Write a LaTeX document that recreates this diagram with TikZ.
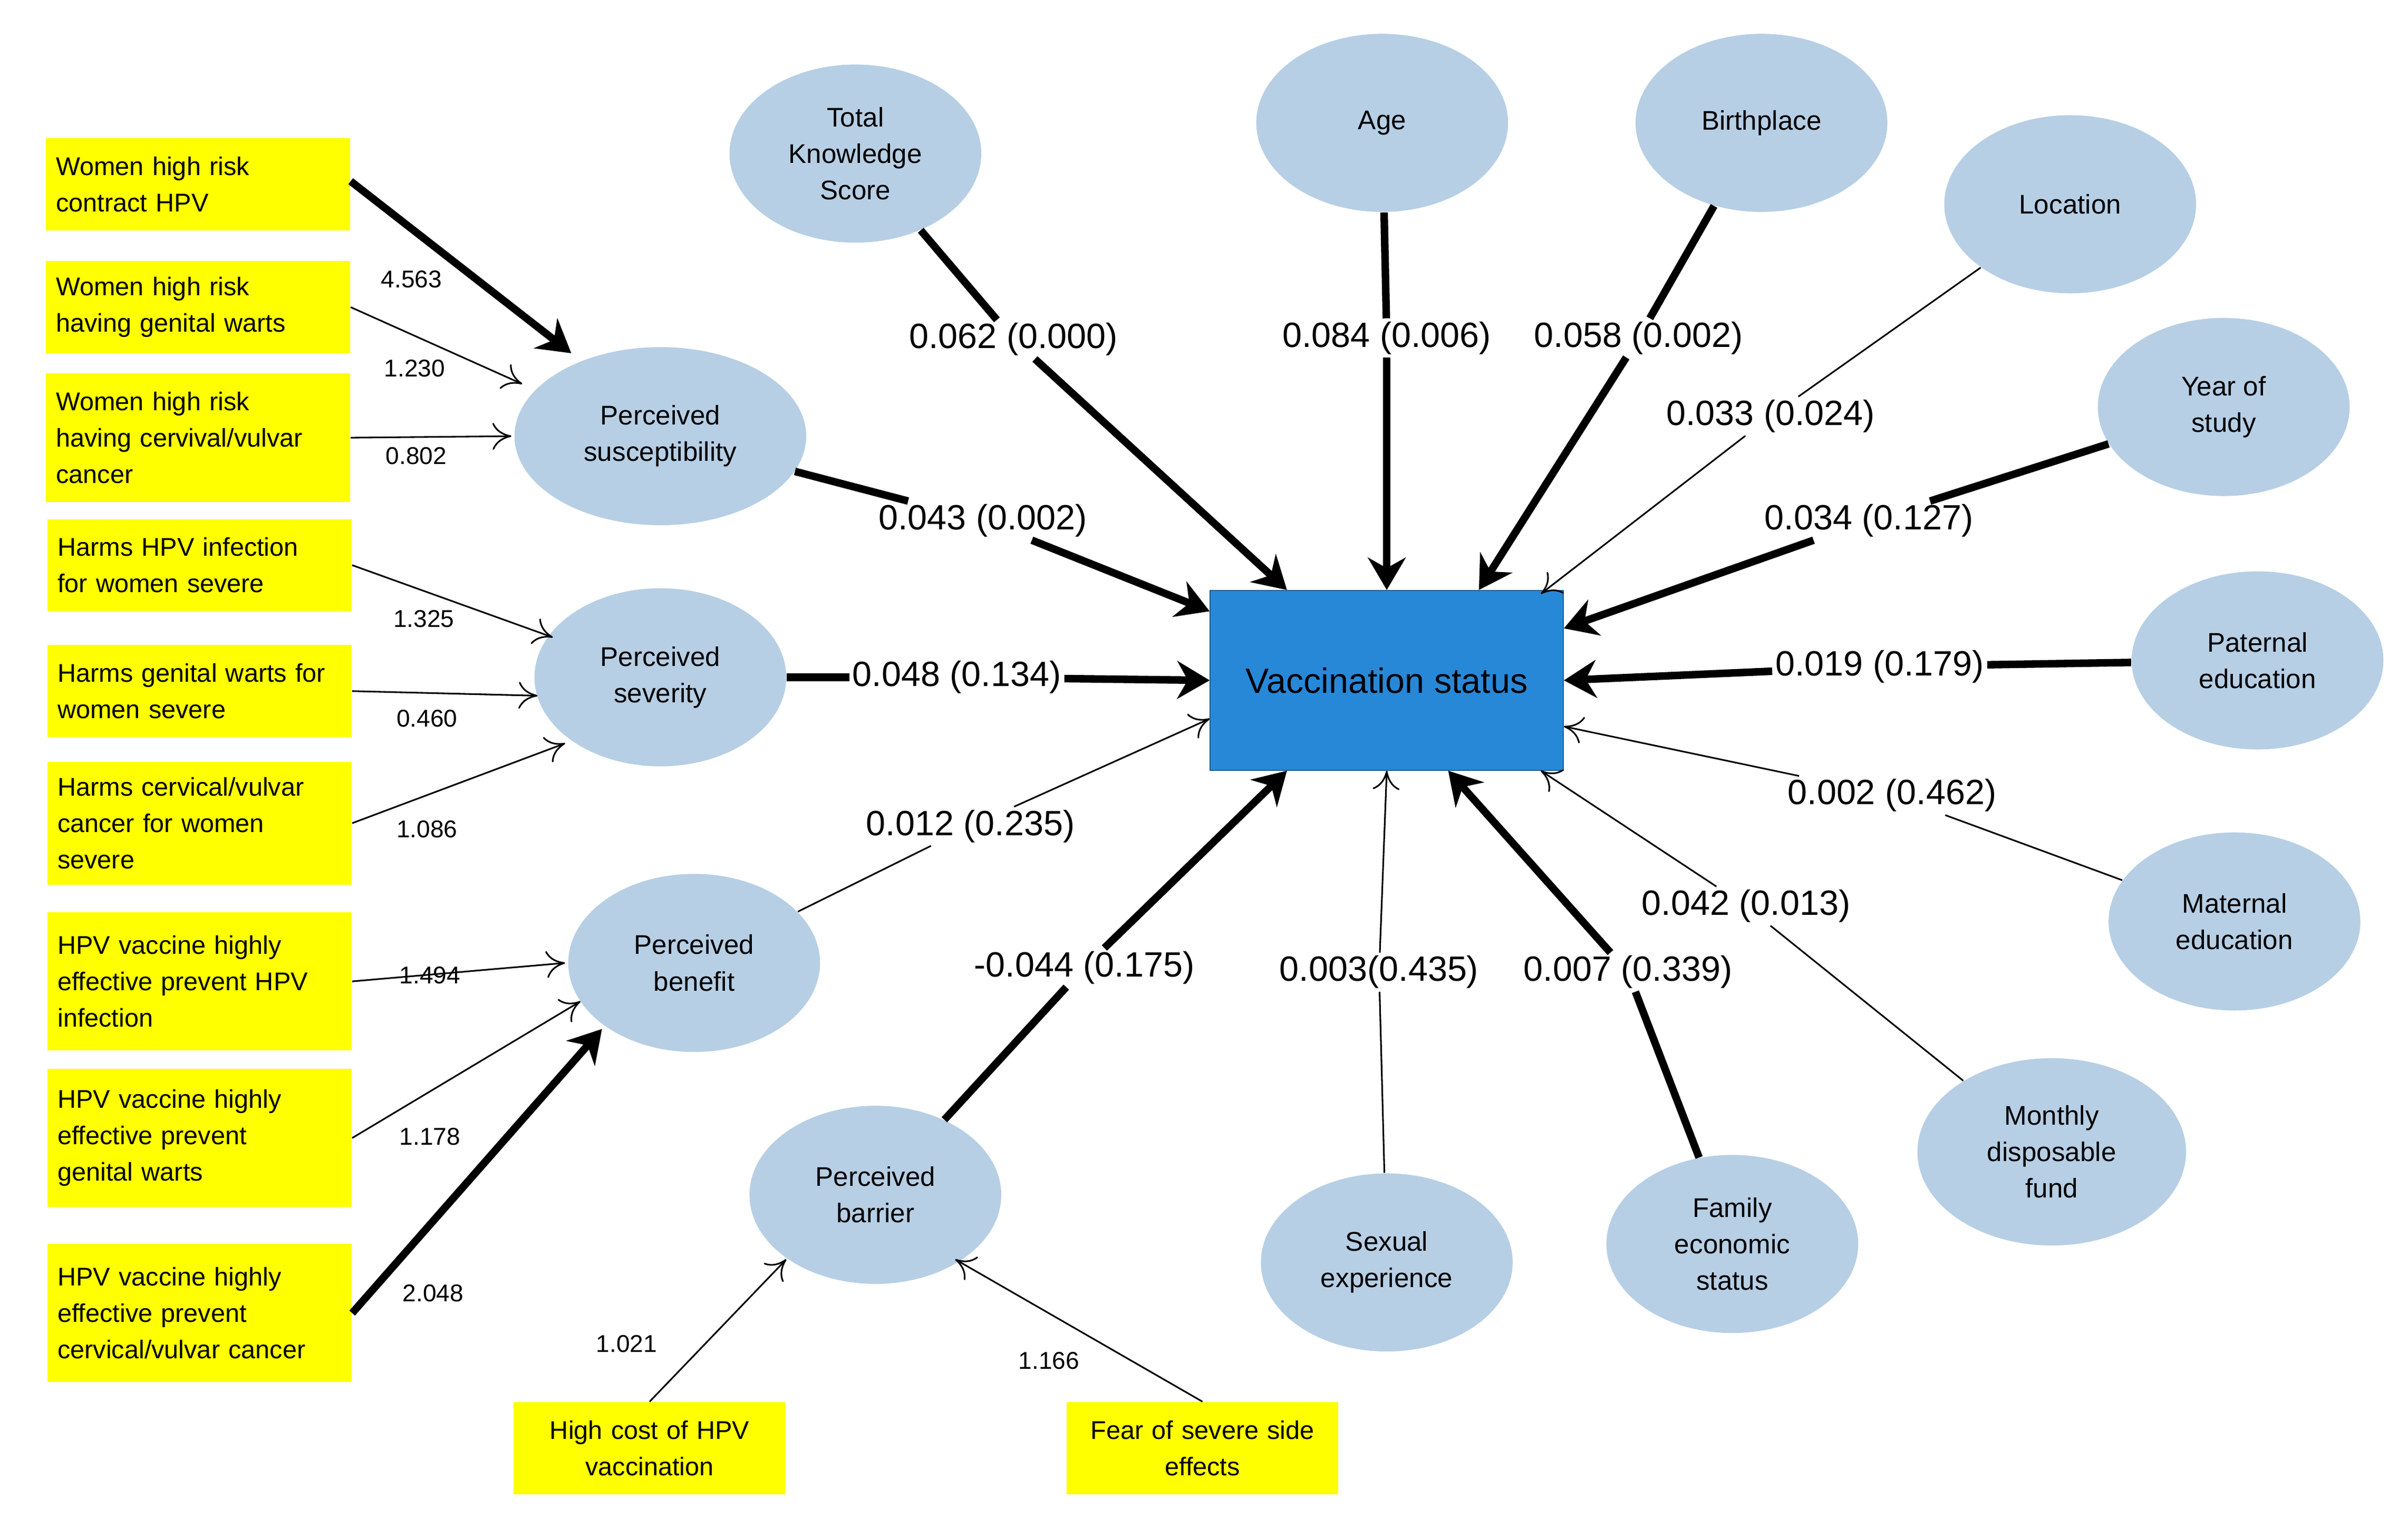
\documentclass[tikz,border=0pt]{standalone}
\usepackage{fontspec}
\setmainfont{Liberation Sans}
\usetikzlibrary{arrows.meta,positioning,calc,shapes.geometric}
\definecolor{ellblue}{RGB}{183,207,229}
\definecolor{boxblue}{RGB}{40,136,216}
\definecolor{hiyellow}{RGB}{255,255,0}
\begin{document}
\begin{tikzpicture}[x=0.02cm,y=-0.02cm,
    item/.style={rectangle, fill=hiyellow, minimum width=3.96cm, align=left, font=\fontsize{9.5}{13.5}\selectfont, text width=3.7cm},
    factor/.style={ellipse, fill=ellblue, minimum width=3.28cm, minimum height=2.32cm, inner sep=0pt, align=center, font=\fontsize{10}{13.5}\selectfont},
    coef/.style={fill=white, inner sep=1pt, font=\fontsize{13}{15}\selectfont},
    wt/.style={font=\fontsize{9}{11}\selectfont},
    thin/.style={-{To[length=7pt,width=10pt]}, line width=0.6pt},
    bold/.style={-{Stealth[length=12pt,width=14pt]}, line width=2.8pt},
    boldline/.style={line width=2.8pt},
    thinline/.style={line width=0.6pt}
]
\useasboundingbox (0,0) rectangle (1568,994);

% Outcome
\node[rectangle, fill=boxblue, draw=boxblue!70!black, minimum width=4.6cm, minimum height=2.34cm, font=\fontsize{13}{15}\selectfont] (vs) at (903,443) {Vaccination status};

% Health belief constructs
\node[factor, minimum width=3.8cm] (sus) at (430,284) {Perceived\\susceptibility};
\node[factor] (sev) at (430,441) {Perceived\\severity};
\node[factor] (ben) at (452,627) {Perceived\\benefit};
\node[factor] (bar) at (570,778) {Perceived\\barrier};

% Other factors
\node[factor] (tks) at (557,100) {Total\\Knowledge\\Score};
\node[factor] (age) at (900,80) {Age};
\node[factor] (bp) at (1147,80) {Birthplace};
\node[factor] (loc) at (1348,133) {Location};
\node[factor] (yos) at (1448,265) {Year of\\study};
\node[factor] (pat) at (1470,430) {Paternal\\education};
\node[factor] (mat) at (1455,600) {Maternal\\education};
\node[factor, minimum width=3.5cm, minimum height=2.44cm] (mdf) at (1336,750) {Monthly\\disposable\\fund};
\node[factor] (fes) at (1128,810) {Family\\economic\\status};
\node[factor] (sex) at (903,822) {Sexual\\experience};

% Items
\node[item, minimum height=1.2cm] (i1) at (129,120) {Women high risk\\contract HPV};
\node[item, minimum height=1.2cm] (i2) at (129,200) {Women high risk\\having genital warts};
\node[item, minimum height=1.68cm] (i3) at (129,285) {Women high risk\\having cervival/vulvar\\cancer};
\node[item, minimum height=1.2cm] (i4) at (130,368) {Harms HPV infection\\for women severe};
\node[item, minimum height=1.2cm] (i5) at (130,450) {Harms genital warts for\\women severe};
\node[item, minimum height=1.6cm] (i6) at (130,536) {Harms cervical/vulvar\\cancer for women\\severe};
\node[item, minimum height=1.8cm] (i7) at (130,639) {HPV vaccine highly\\effective prevent HPV\\infection};
\node[item, minimum height=1.8cm] (i8) at (130,741) {HPV vaccine highly\\effective prevent\\genital warts};
\node[item, minimum height=1.8cm] (i9) at (130,855) {HPV vaccine highly\\effective prevent\\cervical/vulvar cancer};
\node[item, minimum width=3.54cm, text width=3.3cm, align=center, minimum height=1.2cm] (i10) at (423,943) {High cost of HPV\\vaccination};
\node[item, minimum width=3.54cm, text width=3.3cm, align=center, minimum height=1.2cm] (i11) at (783,943) {Fear of severe side\\effects};

% Item arrows
\draw[bold] ([yshift=0.04cm]i1.east) -- ([shift={(-58,-54)}]sus.center);
\draw[thin] (i2.east) -- ([shift={(-90,-34)}]sus.center);
\draw[thin] (i3.east) -- ([shift={(-97,0)}]sus.center);
\draw[thin] (i4.east) -- ([shift={(-70,-26)}]sev.center);
\draw[thin] (i5.east) -- ([shift={(-80,12)}]sev.center);
\draw[thin] (i6.east) -- ([shift={(-62,43)}]sev.center);
\draw[thin] (i7.east) -- ([shift={(-84,0)}]ben.center);
\draw[thin] (i8.east) -- ([shift={(-74,25)}]ben.center);
\draw[bold] (i9.east) -- ([shift={(-60,43)}]ben.center);
\draw[thin] (i10.north) -- ([shift={(-58,42)}]bar.center);
\draw[thin] (i11.north) -- ([shift={(52,42)}]bar.center);

\node[wt] at (268,182) {4.563};
\node[wt] at (270,240) {1.230};
\node[wt] at (271,297) {0.802};
\node[wt] at (276,403) {1.325};
\node[wt] at (278,468) {0.460};
\node[wt] at (278,540) {1.086};
\node[wt] at (280,635) {1.494};
\node[wt] at (280,740) {1.178};
\node[wt] at (282,842) {2.048};
\node[wt] at (408,875) {1.021};
\node[wt] at (683,886) {1.166};

% Coefficient labels
\node[coef] (c1) at (660,221) {0.062 (0.000)};
\node[coef] (c2) at (903,220) {0.084 (0.006)};
\node[coef] (c3) at (1067,220) {0.058 (0.002)};
\node[coef] (c4) at (1153,271) {0.033 (0.024)};
\node[coef] (c5) at (1217,339) {0.034 (0.127)};
\node[coef] (c6) at (1224,434) {0.019 (0.179)};
\node[coef] (c7) at (1232,518) {0.002 (0.462)};
\node[coef] (c8) at (1137,590) {0.042 (0.013)};
\node[coef] (c9) at (1060,633) {0.007 (0.339)};
\node[coef] (c10) at (898,633) {0.003(0.435)};
\node[coef] (c11) at (706,630) {-0.044 (0.175)};
\node[coef] (c12) at (632,538) {0.012 (0.235)};
\node[coef] (c13) at (623,441) {0.048 (0.134)};
\node[coef] (c14) at (640,339) {0.043 (0.002)};

% Paths to vaccination status
\draw[boldline] (tks) -- (c1);  \draw[bold] (c1) -- ([xshift=-1.3cm]vs.north);
\draw[boldline] (age) -- (c2);  \draw[bold] (c2) -- (vs.north);
\draw[boldline] (bp) -- (c3);   \draw[bold] (c3) -- ([xshift=1.2cm]vs.north);
\draw[thinline] (loc) -- (c4);  \draw[thin] (c4) -- ([xshift=-0.3cm,yshift=-0.05cm]vs.north east);
\draw[boldline] (yos) -- (c5);  \draw[bold] (c5) -- ([yshift=-0.5cm]vs.north east);
\draw[boldline] (pat) -- (c6);  \draw[bold] (c6) -- (vs.east);
\draw[thinline] (mat) -- (c7);  \draw[thin] (c7) -- ([yshift=-0.6cm]vs.east);
\draw[thinline] (mdf) -- (c8);  \draw[thin] (c8) -- ([xshift=-0.3cm]vs.south east);
\draw[boldline] (fes) -- (c9);  \draw[bold] (c9) -- ([xshift=0.8cm]vs.south);
\draw[thinline] (sex) -- (c10); \draw[thin] (c10) -- (vs.south);
\draw[boldline] (bar) -- (c11); \draw[bold] (c11) -- ([xshift=-1.3cm]vs.south);
\draw[thinline] (ben) -- (c12); \draw[thin] (c12) -- ([yshift=-0.5cm]vs.west);
\draw[boldline] (sev) -- (c13); \draw[bold] (c13) -- (vs.west);
\draw[boldline] (sus) -- (c14); \draw[bold] (c14) -- ([yshift=0.9cm]vs.west);
\end{tikzpicture}
\end{document}
